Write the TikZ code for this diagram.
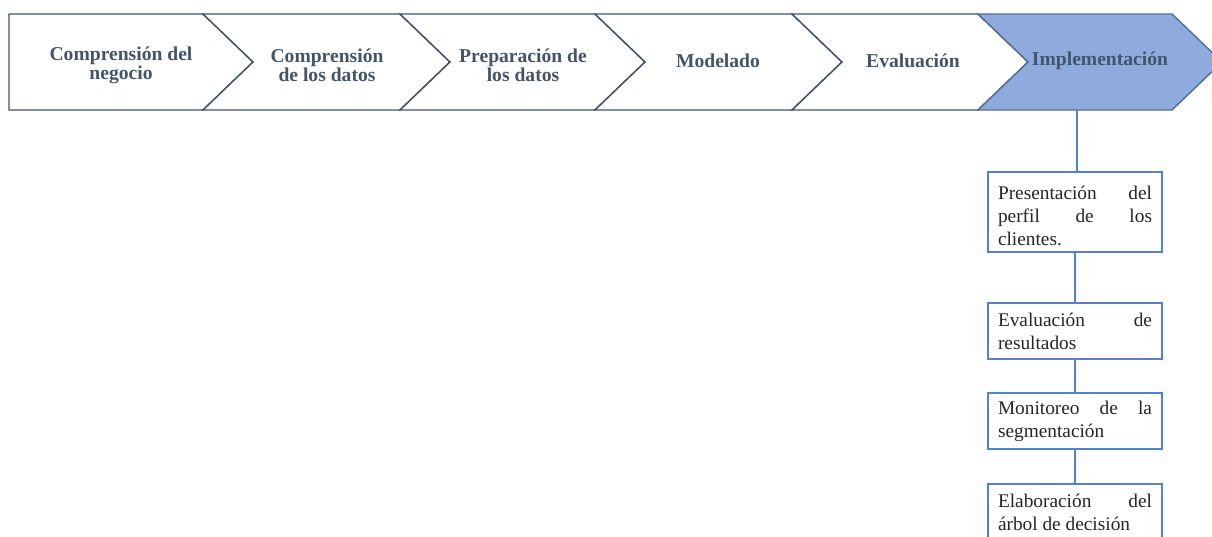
\documentclass[tikz,border=0pt]{standalone}
\usepackage{fontspec}
\setmainfont{Liberation Serif}
\hyphenpenalty=10000
\exhyphenpenalty=10000
\tolerance=10000
\definecolor{fasegris}{RGB}{68,84,106}
\definecolor{faseazul}{RGB}{143,170,220}
\definecolor{bordeazul}{RGB}{84,110,160}
\definecolor{cajaazul}{RGB}{82,130,205}
\tikzset{
    fase/.style={draw=fasegris, line width=1.1pt, fill=white},
    fasetexto/.style={text=fasegris, align=center, inner sep=0pt,
        font=\bfseries\fontsize{14.7}{14.2}\selectfont},
    paso/.style={rectangle, draw=cajaazul, line width=0.9pt, fill=white,
        text width=115.5pt, align=justify, inner xsep=7.5pt, inner ysep=3pt,
        text=black!85, font=\fontsize{14.5}{17.25}\selectfont},
    linea/.style={draw=cajaazul, line width=0.9pt}
}

\begin{document}
\begin{tikzpicture}[x=0.75pt, y=-0.75pt]
    \useasboundingbox (0,0) rectangle (1212,536);

    % Draw phases
    \draw[fase] (9,14) -- (203,14) -- (253,62) -- (203,110) -- (9,110) -- cycle;
    \draw[fase] (203,14) -- (400,14) -- (450,62) -- (400,110) -- (203,110) -- (253,62) -- cycle;
    \draw[fase] (400,14) -- (595,14) -- (645,62) -- (595,110) -- (400,110) -- (450,62) -- cycle;
    \draw[fase] (595,14) -- (792,14) -- (842,62) -- (792,110) -- (595,110) -- (645,62) -- cycle;
    \draw[fase] (792,14) -- (978,14) -- (1028,62) -- (978,110) -- (792,110) -- (842,62) -- cycle;
    \draw[fase, fill=faseazul, draw=bordeazul] (978,14) -- (1172,14) -- (1222,62) -- (1172,110) -- (978,110) -- (1028,62) -- cycle;
    \coordinate (implbase) at (1077,110);

    % Phase labels
    \node[fasetexto] (negocio) at (121,65) {Comprensión del\\negocio};
    \node[fasetexto] (datos) at (327,65) {Comprensión\\de los datos};
    \node[fasetexto] (prep) at (523,65) {Preparación de\\los datos};
    \node[fasetexto] (modelado) at (718,61) {Modelado};
    \node[fasetexto] (eval) at (913,61) {Evaluación};
    \node[fasetexto] (impl) at (1100,61) {Implementación};

    % Steps of the last phase
    \node[paso, minimum height=60pt] (perfil) at (1075,212) {\rule{0pt}{15.2pt}Presentación del\linebreak perfil de los\linebreak clientes.};
    \node[paso, minimum height=42pt] (result) at (1075,331) {Evaluación de\linebreak resultados};
    \node[paso, minimum height=42pt] (monitor) at (1075,421) {Monitoreo de la\linebreak segmentación};
    \node[paso, minimum height=42pt] (arbol) at (1075,512) {Elaboración del\linebreak árbol de decisión};

    % Draw connections
    \draw[linea] (implbase) -- (implbase |- perfil.north);
    \draw[linea] (perfil) -- (result);
    \draw[linea] (result) -- (monitor);
    \draw[linea] (monitor) -- (arbol);
\end{tikzpicture}
\end{document}
